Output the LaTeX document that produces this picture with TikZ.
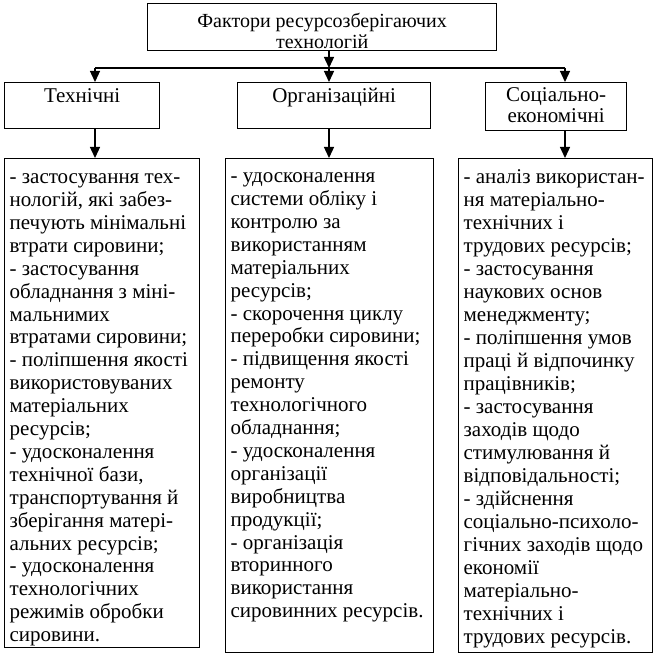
\documentclass[tikz,border=0pt]{standalone}
\usepackage{fontspec}
\setmainfont{Liberation Serif}
\usetikzlibrary{arrows.meta}
\tikzset{
  box/.style={draw, line width=1.3pt, inner xsep=5pt, inner ysep=0pt, anchor=north west},
  conn/.style={line width=1.3pt},
  arr/.style={conn, -{Triangle[length=11pt,width=10pt]}},
}
\begin{document}
\begin{tikzpicture}[x=1pt, y=-1pt, font=\fontsize{21}{23}\selectfont]
\useasboundingbox (0,0) rectangle (660,655);
% top
\node[box] (top) at (147,3) {\parbox[c][47pt][t]{339pt}{\centering\fontsize{20}{21}\selectfont\rule{0pt}{24pt}Фактори ресурсозберігаючих\\технологій}};
% first level
\node[box] (tech) at (4,82) {\parbox[c][46pt][t]{145pt}{\centering\rule{0pt}{20pt}Технічні}};
\node[box] (org) at (237,82) {\parbox[c][46pt][t]{183pt}{\centering\rule{0pt}{20pt}Організаційні}};
\node[box] (soc) at (485,82) {\parbox[c][48pt][t]{131pt}{\centering\fontsize{21}{21}\selectfont\rule{0pt}{19pt}Соціально-\\економічні}};
% details
\node[box] (techD) at (4,158) {\parbox[c][489pt][t]{185pt}{\fontsize{21}{22.9}\selectfont\raggedright\rule{0pt}{25pt}- застосування тех-\\нологій, які забез-\\печують мінімальні\\втрати сировини;\\- застосування\\обладнання з міні-\\мальнимих\\втратами сировини;\\- поліпшення якості\\використовуваних\\матеріальних\\ресурсів;\\- удосконалення\\технічної бази,\\транспортування й\\зберігання матері-\\альних ресурсів;\\- удосконалення\\технологічних\\режимів обробки\\сировини.}};
\node[box] (orgD) at (225,158) {\parbox[c][494pt][t]{198pt}{\fontsize{21}{22.9}\selectfont\raggedright\rule{0pt}{24pt}- удосконалення\\системи обліку і\\контролю за\\використанням\\матеріальних\\ресурсів;\\- скорочення циклу\\переробки сировини;\\- підвищення якості\\ремонту\\технологічного\\обладнання;\\- удосконалення\\організації\\виробництва\\продукції;\\- організація\\вторинного\\використання\\сировинних ресурсів.}};
\node[box] (socD) at (458,158) {\parbox[c][494pt][t]{184pt}{\fontsize{21}{23}\selectfont\raggedright\rule{0pt}{25pt}- аналіз використан-\\ня матеріально-\\технічних і\\трудових ресурсів;\\- застосування\\наукових основ\\менеджменту;\\- поліпшення умов\\праці й відпочинку\\працівників;\\- застосування\\заходів щодо\\стимулювання й\\відповідальності;\\- здійснення\\соціально-психоло-\\гічних заходів щодо\\економії\\матеріально-\\технічних і\\трудових ресурсів.}};
% connectors
\coordinate (hub) at (329,68);
\coordinate (jl) at (95,68);
\coordinate (jr) at (565,68);
\draw[arr] (hub |- top.south) -- (hub);
\draw[conn] (jl) -- (jr);
\draw[arr] (jl) -- (jl |- tech.north);
\draw[arr] (hub) -- (hub |- org.north);
\draw[arr] (jr) -- (jr |- soc.north);
\draw[arr] (jl |- tech.south) -- (jl |- techD.north);
\draw[arr] (hub |- org.south) -- (hub |- orgD.north);
\draw[arr] (jr |- soc.south) -- (jr |- socD.north);
\end{tikzpicture}
\end{document}
